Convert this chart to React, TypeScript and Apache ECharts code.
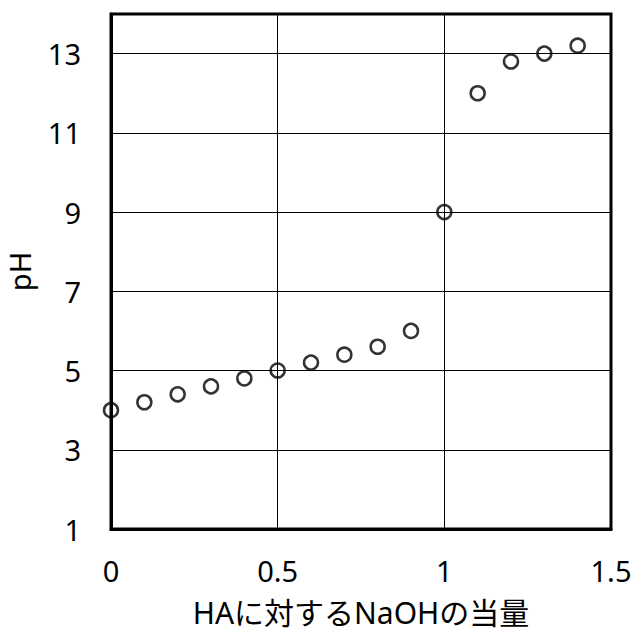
import React, { useEffect, useRef } from "react";
import * as echarts from "echarts";

const equivalents = [0, 0.1, 0.2, 0.3, 0.4, 0.5, 0.6, 0.7, 0.8, 0.9, 1.0, 1.1, 1.2, 1.3, 1.4];
const phValues = [4.0, 4.2, 4.4, 4.6, 4.8, 5.0, 5.2, 5.4, 5.6, 6.0, 9.0, 12.0, 12.8, 13.0, 13.2];
const xAxisName = "HAに対するNaOHの当量";
const yAxisName = "pH";

const FONT = "'Noto Sans', 'Noto Sans CJK JP', sans-serif";

export default function App() {
  const ref = useRef<HTMLDivElement>(null);
  useEffect(() => {
    if (!ref.current) return;
    const chart = echarts.init(ref.current, undefined, { renderer: "svg" });
    chart.setOption({
      animation: false,
      backgroundColor: "#ffffff",
      grid: {
        left: 111,
        right: 22,
        top: 14,
        bottom: 103,
        show: true,
        borderColor: "#000",
        borderWidth: 3,
        backgroundColor: "transparent",
        outerBoundsMode: "none",
        containLabel: false,
      },
      xAxis: {
        type: "value",
        min: 0,
        max: 1.5,
        interval: 0.5,
        name: xAxisName,
        nameLocation: "middle",
        nameGap: 68,
        nameTextStyle: { fontFamily: FONT, fontSize: 30, color: "#000", lineHeight: 30 },
        axisLine: { show: true, lineStyle: { color: "#000", width: 3 } },
        axisTick: { show: false },
        splitLine: { show: true, lineStyle: { color: "#000", width: 1 } },
        axisLabel: {
          margin: 27,
          fontFamily: FONT,
          fontSize: 29,
          color: "#000",
          formatter: (v: number) => String(v),
        },
      },
      yAxis: {
        type: "value",
        min: 1,
        max: 14,
        interval: 2,
        name: yAxisName,
        nameLocation: "middle",
        nameGap: 74,
        nameRotate: 90,
        nameTextStyle: { fontFamily: FONT, fontSize: 29, color: "#000", lineHeight: 34 },
        axisLine: { show: true, lineStyle: { color: "#000", width: 3 } },
        axisTick: { show: false },
        splitLine: { show: true, lineStyle: { color: "#000", width: 1 } },
        axisLabel: {
          margin: 30,
          fontFamily: FONT,
          fontSize: 29,
          color: "#000",
          showMaxLabel: false,
        },
      },
      series: [
        {
          type: "scatter",
          data: equivalents.map((x, i) => [x, phValues[i]]),
          symbol: "circle",
          symbolSize: 14,
          itemStyle: { color: "rgba(0,0,0,0)", borderColor: "#000", borderWidth: 2.5 },
        },
      ],
    });
    return () => chart.dispose();
  }, []);
  return (
    <div
      ref={ref}
      style={{ position: "fixed", left: 0, top: 0, width: 633, height: 632, background: "#fff" }}
    />
  );
}
